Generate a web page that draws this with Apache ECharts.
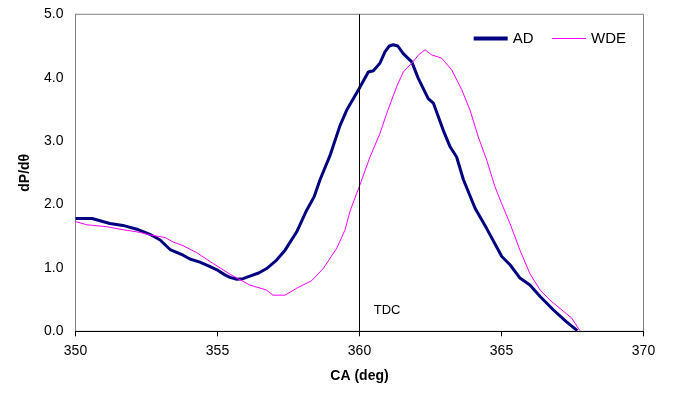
<!DOCTYPE html>
<html>
<head>
<meta charset="utf-8">
<script src="https://cdn.jsdelivr.net/npm/echarts@6/dist/echarts.min.js"></script>
<style>
  html, body { margin: 0; padding: 0; background: #fff; }
  #chart { width: 676px; height: 397px; }
</style>
</head>
<body>
<div id="chart"></div>
<script>
const xTicks = [350, 355, 360, 365, 370];
const yTicks = [0, 1, 2, 3, 4, 5];

const adAngle = [350.0, 350.58, 351.21, 351.67, 352.16, 352.62, 352.98, 353.33, 353.79, 354.03,
  354.38, 354.74, 354.98, 355.26, 355.44, 355.68, 355.9, 356.14, 356.45, 356.73,
  357.05, 357.38, 357.79, 358.14, 358.4, 358.61, 358.96, 359.31, 359.55, 359.99,
  360.31, 360.49, 360.72, 360.9, 361.05, 361.19, 361.35, 361.54, 361.84, 362.07,
  362.42, 362.6, 362.95, 363.19, 363.42, 363.66, 364.07, 364.48, 365.01, 365.3,
  365.65, 366.0, 366.36, 366.82, 367.29, 367.67];
const adValue = [1.78, 1.78, 1.70, 1.67, 1.61, 1.53, 1.44, 1.29, 1.20, 1.14,
  1.09, 1.02, 0.97, 0.89, 0.85, 0.82, 0.83, 0.87, 0.92, 0.99,
  1.11, 1.28, 1.57, 1.91, 2.12, 2.39, 2.77, 3.24, 3.49, 3.83,
  4.09, 4.11, 4.23, 4.41, 4.50, 4.52, 4.50, 4.38, 4.25, 3.99,
  3.67, 3.60, 3.17, 2.91, 2.75, 2.39, 1.94, 1.62, 1.18, 1.05,
  0.84, 0.73, 0.55, 0.34, 0.15, 0.01];

const wdeAngle = [350.0, 350.4, 351.1, 351.57, 352.27, 352.62, 353.15, 353.43, 353.79, 354.27,
  354.74, 355.44, 356.14, 356.73, 356.95, 357.38, 357.79, 358.32, 358.72, 359.2,
  359.49, 359.67, 359.99, 360.37, 360.72, 360.96, 361.31, 361.54, 361.88, 362.1,
  362.31, 362.54, 362.89, 363.25, 363.6, 363.89, 364.18, 364.48, 364.77, 365.0,
  365.3, 365.65, 366.0, 366.36, 366.71, 367.06, 367.47, 367.76];
const wdeValue = [1.73, 1.68, 1.65, 1.61, 1.56, 1.52, 1.48, 1.41, 1.35, 1.24,
  1.10, 0.90, 0.73, 0.65, 0.57, 0.57, 0.68, 0.80, 0.99, 1.31,
  1.60, 1.90, 2.28, 2.75, 3.12, 3.44, 3.86, 4.09, 4.25, 4.37,
  4.44, 4.36, 4.31, 4.12, 3.81, 3.49, 3.07, 2.70, 2.28, 2.02,
  1.70, 1.28, 0.91, 0.65, 0.49, 0.36, 0.21, 0.01];

const tdcAngle = 360;
const tdcLabel = 'TDC';

const font = 'Liberation Sans, Arial, sans-serif';
const pairs = (xs, ys) => xs.map((x, i) => [x, ys[i]]);

const chart = echarts.init(document.getElementById('chart'), null, { renderer: 'canvas' });

chart.setOption({
  animation: false,
  backgroundColor: '#fff',
  grid: {
    left: 75.5, right: 32.5, top: 14.3, bottom: 65.7,
    show: true, borderColor: '#808080', borderWidth: 1
  },
  legend: {
    right: 45, top: 26,
    itemWidth: 34, itemHeight: 14, itemGap: 18,
    itemStyle: { color: 'transparent', borderWidth: 0 },
    textStyle: { fontFamily: font, fontSize: 15, color: '#000' },
    data: [
      { name: 'AD', lineStyle: { width: 4 } },
      { name: 'WDE', lineStyle: { width: 1 } }
    ]
  },
  xAxis: {
    type: 'value',
    min: xTicks[0], max: xTicks[xTicks.length - 1], interval: 5,
    name: 'CA (deg)', nameLocation: 'middle', nameGap: 38,
    nameTextStyle: { fontFamily: font, fontSize: 14, fontWeight: 'bold', color: '#000' },
    axisLine: { show: true, lineStyle: { color: '#000', width: 1 } },
    axisTick: { show: true, length: 5, inside: false, lineStyle: { color: '#000' } },
    axisLabel: { fontFamily: font, fontSize: 14, color: '#000', margin: 13 },
    splitLine: { show: false }
  },
  yAxis: {
    type: 'value',
    min: yTicks[0], max: yTicks[yTicks.length - 1], interval: 1,
    name: 'dP/dθ', nameLocation: 'middle', nameGap: 43,
    nameTextStyle: { fontFamily: font, fontSize: 14, fontWeight: 'bold', color: '#000' },
    axisLine: { show: true, lineStyle: { color: '#808080', width: 1 } },
    axisTick: { show: false },
    axisLabel: { fontFamily: font, fontSize: 14, color: '#000', margin: 12,
      formatter: v => v.toFixed(1) },
    splitLine: { show: false }
  },
  series: [
    {
      name: 'AD', type: 'line', data: pairs(adAngle, adValue),
      showSymbol: false, symbol: 'none',
      lineStyle: { color: '#000080', width: 3 }, itemStyle: { color: '#000080' },
      markLine: {
        silent: true, symbol: 'none',
        lineStyle: { color: '#000', width: 1, type: 'solid' },
        label: { show: false },
        data: [{ xAxis: tdcAngle }]
      }
    },
    {
      name: 'WDE', type: 'line', data: pairs(wdeAngle, wdeValue),
      showSymbol: false, symbol: 'none',
      lineStyle: { color: '#FF00FF', width: 1 }, itemStyle: { color: '#FF00FF' }
    }
  ]
});

const p = chart.convertToPixel({ gridIndex: 0 }, [tdcAngle + 0.5, 0.35]);
chart.setOption({
  graphic: [{
    type: 'text', left: p[0], top: p[1] - 5,
    style: { text: tdcLabel, fontFamily: font, fontSize: 13, fill: '#000' }
  }]
});
</script>
</body>
</html>
